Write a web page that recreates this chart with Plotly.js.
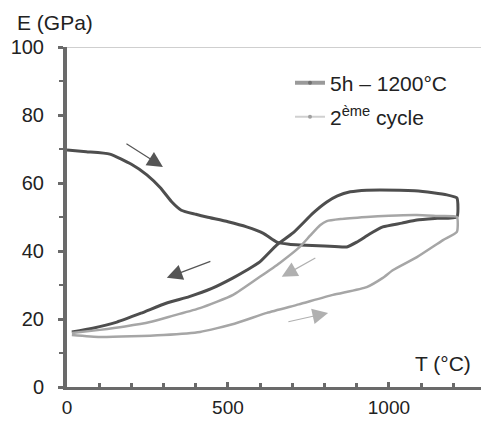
<!DOCTYPE html>
<html>
<head>
<meta charset="utf-8">
<script src="https://cdn.plot.ly/plotly-3.0.1.min.js"></script>
<style>html,body{margin:0;padding:0;background:#fff;}#chart{width:481px;height:421px;}</style>
</head>
<body>
<div id="chart"></div>
<script>
// Series 1: 5h – 1200°C (heating then 5h hold then cooling)
var tempDark = [0, 60, 133, 200, 248, 290, 325, 355, 400, 434, 500, 558, 610, 652, 690, 723, 800, 869, 900, 940, 981, 1040, 1087, 1150, 1211,
                1211, 1180, 1137, 1080, 1034, 931, 880, 840, 807, 765, 702, 652, 599, 559, 516, 450, 380, 310, 230, 155, 80, 15];
var eDark = [69.7, 69.2, 68.5, 65.5, 62.4, 58.6, 54.5, 52.0, 50.8, 50.0, 48.6, 47.1, 45.2, 42.6, 42.0, 41.8, 41.5, 41.2, 42.6, 45.0, 47.1, 48.2, 49.1, 49.6, 50.0,
             55.6, 56.5, 57.1, 57.7, 57.9, 57.9, 57.4, 56.2, 54.4, 51.2, 45.3, 41.8, 36.8, 34.4, 32.1, 29.0, 26.6, 24.7, 21.7, 19.1, 17.3, 16.2];

// Series 2: 2ème cycle (heating then cooling)
var tempGray = [15, 102, 200, 300, 413, 520, 621, 720, 826, 931, 981, 1013, 1087, 1168, 1211,
                1211, 1150, 1087, 1000, 931, 850, 807, 786, 755, 723, 661, 599, 516, 413, 330, 258, 180, 102, 15];
var eGray = [15.3, 14.7, 14.9, 15.3, 16.2, 18.6, 21.8, 24.3, 27.1, 29.4, 32.1, 34.4, 38.2, 43.2, 45.6,
             50.0, 50.3, 50.6, 50.4, 50.0, 49.4, 48.8, 47.6, 44.5, 41.2, 36.5, 32.4, 27.1, 23.2, 21.0, 19.1, 17.8, 16.8, 15.9];

// Arrows: [tail T, tail E, head T, head E]
var arrowsDark = [[180, 71.8, 298, 64.7], [450, 37.1, 310, 32.1]];
var arrowsGray = [[776, 38.2, 667, 32.4], [683, 19.1, 811, 21.8]];

var legendNames = ['5h \u2013 1200\u00b0C', '2<sup>\u00e8me</sup> cycle'];
var xTicks = [0, 500, 1000];
var yTicks = [0, 20, 40, 60, 80, 100];

var FONT = 'Liberation Sans, Arial, sans-serif';
var darkCol = '#4e4e4e', grayCol = '#a6a6a6';

var traces = [
  {x: tempDark, y: eDark, mode: 'lines', line: {color: darkCol, width: 3, shape: 'spline', smoothing: 0.5}, showlegend: false, hoverinfo: 'skip'},
  {x: tempGray, y: eGray, mode: 'lines', line: {color: grayCol, width: 2.5, shape: 'spline', smoothing: 0.5}, showlegend: false, hoverinfo: 'skip'},
  {x: [null], y: [null], mode: 'lines+markers', name: legendNames[0], legend: 'legend',
   line: {color: '#9a9a9a', width: 4}, marker: {color: '#707070', size: 4}},
  {x: [null], y: [null], mode: 'lines+markers', name: legendNames[1], legend: 'legend2',
   line: {color: '#d0d0d0', width: 2}, marker: {color: '#a0a0a0', size: 4}}
];

var annotations = [];
function addArrows(list, shaft) {
  list.forEach(function (a) {
    annotations.push({x: a[2], y: a[3], ax: a[0], ay: a[1], xref: 'x', yref: 'y', axref: 'x', ayref: 'y',
      text: '', showarrow: true, arrowhead: 2, arrowsize: 2.6, arrowwidth: 1.2, arrowcolor: shaft, standoff: 0});
  });
}
addArrows(arrowsDark, '#555555');
addArrows(arrowsGray, '#b0b0b0');
annotations.push({text: 'E (GPa)', xref: 'paper', yref: 'paper', x: (55 - 67) / 414, y: (387 - 22) / 340,
  xanchor: 'center', yanchor: 'middle', showarrow: false, font: {family: FONT, size: 21, color: '#222'}});
annotations.push({text: 'T (\u00b0C)', xref: 'paper', yref: 'paper', x: (443 - 67) / 414, y: (387 - 363) / 340,
  xanchor: 'center', yanchor: 'middle', showarrow: false, font: {family: FONT, size: 21, color: '#222'}});

var layout = {
  width: 481, height: 421,
  margin: {l: 67, r: 0, t: 47, b: 34},
  paper_bgcolor: '#fff', plot_bgcolor: '#fff',
  font: {family: FONT, size: 20, color: '#222'},
  xaxis: {range: [0, 1286], tickvals: xTicks, ticktext: xTicks.map(String), showgrid: false, zeroline: false,
    showline: true, linecolor: '#6a6a6a', linewidth: 3, ticks: 'inside', ticklen: 5, tickwidth: 3, tickcolor: '#6a6a6a',
    minor: {dtick: 100, ticks: 'inside', ticklen: 4, tickwidth: 3, tickcolor: '#6a6a6a'},
    tickfont: {family: FONT, size: 19, color: '#222'}, ticklabelstandoff: 1},
  yaxis: {range: [0, 100], tickvals: yTicks, ticktext: yTicks.map(String), showgrid: false, zeroline: false,
    showline: true, linecolor: '#6a6a6a', linewidth: 4, ticks: 'outside', ticklen: 5, tickwidth: 3, tickcolor: '#6a6a6a',
    minor: {dtick: 10, ticks: 'outside', ticklen: 4, tickwidth: 2, tickcolor: '#6a6a6a'},
    tickfont: {family: FONT, size: 20, color: '#222'}, ticklabelstandoff: 10},
  shapes: [{type: 'line', xref: 'paper', x0: 0, x1: 1, yref: 'y', y0: 100, y1: 100, line: {color: '#cfcfcf', width: 2}}],
  legend: {x: (290 - 67) / 414, y: (387 - 83) / 340, xanchor: 'left', yanchor: 'middle', bgcolor: 'rgba(0,0,0,0)',
    font: {family: FONT, size: 21, color: '#222'}, itemwidth: 30},
  legend2: {x: (290 - 67) / 414, y: (387 - 117) / 340, xanchor: 'left', yanchor: 'middle', bgcolor: 'rgba(0,0,0,0)',
    font: {family: FONT, size: 21, color: '#222'}, itemwidth: 30},
  annotations: annotations,
  showlegend: true
};

Plotly.newPlot('chart', traces, layout, {staticPlot: true, displayModeBar: false});
</script>
</body>
</html>
